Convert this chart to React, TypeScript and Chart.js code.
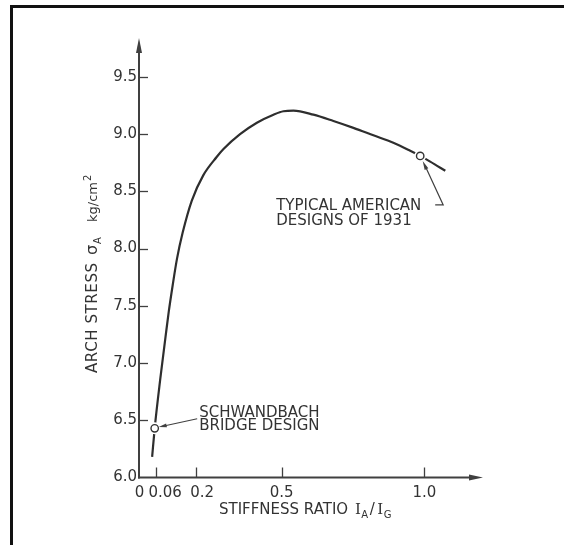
import React, { useEffect, useRef } from 'react';
import { Chart, registerables } from 'chart.js';

Chart.register(...registerables);

// ---- data ----
const X_TICKS = [0, 0.06, 0.2, 0.5, 1.0];
const X_TICK_LABELS = ['0', '0.06', '0.2', '0.5', '1.0'];
const Y_TICKS = [6.0, 6.5, 7.0, 7.5, 8.0, 8.5, 9.0, 9.5];

const CURVE_X = [0.046, 0.055, 0.074, 0.093, 0.104, 0.118, 0.133, 0.153, 0.185, 0.225, 0.272, 0.296, 0.354, 0.413, 0.471, 0.506, 0.541, 0.611, 0.681, 0.751, 0.821, 0.891, 0.950, 0.985, 1.020, 1.073];
const CURVE_Y = [6.18, 6.43, 6.85, 7.23, 7.445, 7.68, 7.91, 8.14, 8.42, 8.64, 8.80, 8.87, 9.00, 9.10, 9.17, 9.20, 9.205, 9.17, 9.115, 9.055, 8.99, 8.925, 8.855, 8.81, 8.76, 8.68];

const MARKER_X = [0.055, 0.985];
const MARKER_Y = [6.43, 8.81];
const MARKER_NOTES = [
  ['SCHWANDBACH', 'BRIDGE DESIGN'],
  ['TYPICAL AMERICAN', 'DESIGNS OF 1931'],
];

const X_MIN = 0;
const X_MAX = 1.205;
const Y_MIN = 6.0;
const Y_MAX = 9.84;

// ---- styles ----
const INK = '#333333';
const AXIS = '#404040';
const FONT = '"DejaVu Sans", sans-serif';
const SERIF = '"DejaVu Serif", serif';
const X_LABEL_SHIFT: Record<string, number> = { '0': 0.5, '0.06': 9, '0.2': 6 };

function arrowHead(ctx: CanvasRenderingContext2D, fx: number, fy: number, tx: number, ty: number, len: number, hw: number) {
  const a = Math.atan2(ty - fy, tx - fx);
  const bx = tx - Math.cos(a) * len;
  const by = ty - Math.sin(a) * len;
  ctx.beginPath();
  ctx.moveTo(tx, ty);
  ctx.lineTo(bx + Math.sin(a) * hw, by - Math.cos(a) * hw);
  ctx.lineTo(bx - Math.sin(a) * hw, by + Math.cos(a) * hw);
  ctx.closePath();
  ctx.fill();
}

const decorPlugin = {
  id: 'decor',
  beforeDatasetsDraw(chart: any) {
    const ctx: CanvasRenderingContext2D = chart.ctx;
    const xs = chart.scales.x;
    const ys = chart.scales.y;
    const { left, right, top, bottom } = chart.chartArea;
    ctx.save();
    ctx.strokeStyle = AXIS;
    ctx.fillStyle = AXIS;
    ctx.lineWidth = 2;
    // y axis with arrow
    ctx.beginPath();
    ctx.moveTo(left, bottom + 1);
    ctx.lineTo(left, top + 8);
    ctx.stroke();
    arrowHead(ctx, left, bottom, left, top, 15, 3);
    // x axis with arrow
    ctx.beginPath();
    ctx.moveTo(left - 1, bottom);
    ctx.lineTo(right - 8, bottom);
    ctx.stroke();
    arrowHead(ctx, left, bottom, right, bottom, 14, 3);
    // inward tick marks
    ctx.lineWidth = 1.3;
    Y_TICKS.forEach((v) => {
      if (v === Y_MIN) return;
      const y = Math.round(ys.getPixelForValue(v)) + 0.5;
      ctx.beginPath();
      ctx.moveTo(left, y);
      ctx.lineTo(left + 9, y);
      ctx.stroke();
    });
    X_TICKS.forEach((v) => {
      if (v === X_MIN) return;
      const x = Math.round(xs.getPixelForValue(v)) + 0.5;
      ctx.beginPath();
      ctx.moveTo(x, bottom);
      ctx.lineTo(x, bottom - 10);
      ctx.stroke();
    });
    // x tick labels
    ctx.fillStyle = INK;
    ctx.font = `15px ${FONT}`;
    ctx.textAlign = 'center';
    ctx.textBaseline = 'alphabetic';
    X_TICKS.forEach((v, i) => {
      const lab = X_TICK_LABELS[i];
      const x = xs.getPixelForValue(v) + (X_LABEL_SHIFT[lab] || 0);
      ctx.fillText(lab, x, bottom + 19);
    });
    ctx.restore();
  },
  afterDraw(chart: any) {
    const ctx: CanvasRenderingContext2D = chart.ctx;
    const xs = chart.scales.x;
    const ys = chart.scales.y;
    const { left, bottom } = chart.chartArea;
    ctx.save();
    ctx.fillStyle = INK;
    ctx.textAlign = 'left';
    ctx.textBaseline = 'alphabetic';

    // x axis title: STIFFNESS RATIO I_A / I_G
    {
      let cx = left + 80;
      const by = bottom + 36.5;
      ctx.font = `15px ${FONT}`;
      const t1 = 'STIFFNESS RATIO ';
      ctx.fillText(t1, cx, by);
      cx += ctx.measureText(t1).width + 2;
      ctx.font = `15px ${SERIF}`;
      ctx.fillText('I', cx, by);
      cx += ctx.measureText('I').width + 0.5;
      ctx.font = `10px ${FONT}`;
      ctx.fillText('A', cx, by + 4);
      cx += ctx.measureText('A').width + 1.5;
      ctx.font = `15px ${FONT}`;
      ctx.fillText('/', cx, by);
      cx += ctx.measureText('/').width + 2.5;
      ctx.font = `15px ${SERIF}`;
      ctx.fillText('I', cx, by);
      cx += ctx.measureText('I').width + 0.5;
      ctx.font = `10px ${FONT}`;
      ctx.fillText('G', cx, by + 4);
    }

    // y axis title (rotated): ARCH STRESS σ_A  kg/cm²
    {
      ctx.save();
      ctx.translate(left - 42.3, bottom - 104.5);
      ctx.rotate(-Math.PI / 2);
      ctx.font = `15px ${FONT}`;
      try { (ctx as any).letterSpacing = '0.6px'; } catch (e) {}
      ctx.fillText('ARCH STRESS', 0, 0);
      try { (ctx as any).letterSpacing = '0px'; } catch (e) {}
      ctx.font = `16px ${FONT}`;
      ctx.fillText('σ', 118, 0);
      ctx.font = `10px ${FONT}`;
      ctx.fillText('A', 129, 4);
      ctx.font = `13px ${FONT}`;
      ctx.fillText('kg/cm', 151, 0);
      const w = ctx.measureText('kg/cm').width;
      ctx.font = `10px ${FONT}`;
      ctx.fillText('2', 151 + w + 1, -6);
      ctx.restore();
    }

    // annotations with leader arrows
    ctx.strokeStyle = AXIS;
    ctx.fillStyle = INK;
    ctx.lineWidth = 1.2;
    ctx.font = `15px ${FONT}`;
    {
      const mx = xs.getPixelForValue(MARKER_X[0]);
      const my = ys.getPixelForValue(MARKER_Y[0]);
      ctx.fillText(MARKER_NOTES[0][0], mx + 44.5, my - 11.5);
      ctx.fillText(MARKER_NOTES[0][1], mx + 44.5, my + 1.5);
      ctx.beginPath();
      ctx.moveTo(mx + 42.5, my - 9.5);
      ctx.lineTo(mx + 8, my - 2);
      ctx.stroke();
      ctx.fillStyle = AXIS;
      arrowHead(ctx, mx + 42.5, my - 9.5, mx + 4, my - 1.2, 8, 2);
    }
    {
      ctx.fillStyle = INK;
      const mx = xs.getPixelForValue(MARKER_X[1]);
      const my = ys.getPixelForValue(MARKER_Y[1]);
      ctx.fillText(MARKER_NOTES[1][0], mx - 144, my + 54.5);
      ctx.fillText(MARKER_NOTES[1][1], mx - 144, my + 69.5);
      ctx.beginPath();
      ctx.moveTo(mx + 15, my + 49);
      ctx.lineTo(mx + 23, my + 49);
      ctx.lineTo(mx + 5, my + 10);
      ctx.stroke();
      ctx.fillStyle = AXIS;
      arrowHead(ctx, mx + 23, my + 49, mx + 2.5, my + 5, 9, 2);
    }
    ctx.restore();
  },
};

export default function App() {
  const ref = useRef<HTMLCanvasElement | null>(null);

  useEffect(() => {
    if (!ref.current) return;
    const curve = CURVE_X.map((x, i) => ({ x, y: CURVE_Y[i] }));
    const markers = MARKER_X.map((x, i) => ({ x, y: MARKER_Y[i] }));
    const chart = new Chart(ref.current, {
      type: 'scatter',
      data: {
        datasets: [
          {
            label: 'markers',
            data: markers,
            showLine: false,
            pointRadius: 3.7,
            pointBorderWidth: 1.4,
            pointBackgroundColor: '#ffffff',
            pointBorderColor: INK,
            order: 0,
          },
          {
            label: 'halo',
            data: markers,
            showLine: false,
            pointRadius: 6,
            pointBorderWidth: 0,
            pointBackgroundColor: '#ffffff',
            pointBorderColor: '#ffffff',
            order: 1,
          },
          {
            label: 'arch stress',
            data: curve,
            showLine: true,
            borderColor: '#2e2e2e',
            borderWidth: 2.2,
            pointRadius: 0,
            cubicInterpolationMode: 'monotone',
            fill: false,
            order: 2,
          },
        ],
      },
      options: {
        animation: false,
        responsive: false,
        devicePixelRatio: 1,
        layout: { padding: { left: 0, right: 81, top: 38, bottom: 67.5 } },
        plugins: {
          legend: { display: false },
          tooltip: { enabled: false },
        },
        scales: {
          x: {
            type: 'linear',
            min: X_MIN,
            max: X_MAX,
            display: false,
          },
          y: {
            type: 'linear',
            min: Y_MIN,
            max: Y_MAX,
            afterBuildTicks: (s: any) => {
              s.ticks = Y_TICKS.map((v) => ({ value: v }));
            },
            afterFit: (s: any) => {
              s.width = 139;
            },
            grid: { display: false, drawTicks: false },
            border: { display: false },
            ticks: {
              padding: 2,
              color: INK,
              font: { family: 'DejaVu Sans', size: 15 },
              callback: (v: any) => Number(v).toFixed(1),
            },
          },
        },
      } as any,
      plugins: [decorPlugin],
    });
    return () => chart.destroy();
  }, []);

  return (
    <div style={{ position: 'absolute', left: 0, top: 0, width: 564, height: 545, background: '#ffffff', overflow: 'hidden' }}>
      <canvas ref={ref} width={564} height={545} style={{ position: 'absolute', left: 0, top: 0 }} />
      <div
        style={{
          position: 'absolute',
          left: 10,
          top: 5,
          right: 0,
          bottom: 0,
          borderTop: '3px solid #111',
          borderLeft: '3px solid #111',
          pointerEvents: 'none',
        }}
      />
    </div>
  );
}
